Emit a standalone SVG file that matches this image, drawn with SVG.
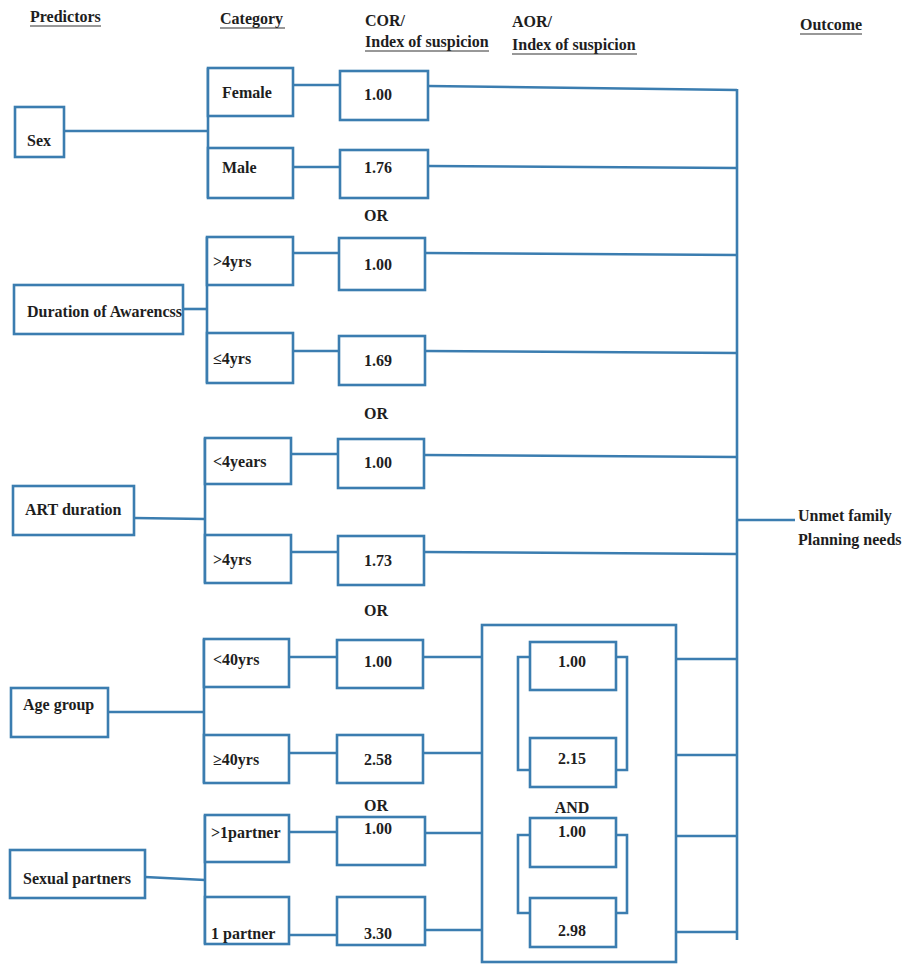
<svg xmlns="http://www.w3.org/2000/svg" width="905" height="964" viewBox="0 0 905 964" font-family="'Liberation Serif', 'DejaVu Serif', serif">
<style>
  .bg{fill:#ffffff}
  .box{fill:#ffffff;stroke:#3b7db0;stroke-width:2.6}
  .ln{fill:none;stroke:#3b7db0;stroke-width:2.6}
  text{font-family:'Liberation Serif','Times New Roman','DejaVu Serif',serif;font-weight:bold;font-size:16px;fill:#1e1e1e}
  .c{text-anchor:middle}
  .ul{stroke:#333;stroke-width:1.2}
</style>
<rect class="bg" x="0" y="0" width="905" height="964"/>

<g id="headers">
  <text x="30" y="22">Predictors</text>
  <line class="ul" x1="30" y1="26" x2="101" y2="26"/>
  <text x="220" y="24">Category</text>
  <line class="ul" x1="220" y1="28" x2="285" y2="28"/>
  <text x="365" y="26">COR/</text>
  <text x="365" y="47">Index of suspicion</text>
  <line class="ul" x1="365" y1="51" x2="489" y2="51"/>
  <text x="512" y="27">AOR/</text>
  <text x="512" y="50">Index of suspicion</text>
  <line class="ul" x1="512" y1="54" x2="637" y2="54"/>
  <text x="800" y="30">Outcome</text>
  <line class="ul" x1="800" y1="34" x2="862" y2="34"/>
</g>

<g id="connectors">
  <line class="ln" x1="64" y1="131" x2="208" y2="131"/>
  <line class="ln" x1="208" y1="68" x2="208" y2="198"/>
  <line class="ln" x1="293" y1="85" x2="340" y2="85"/>
  <line class="ln" x1="293" y1="167" x2="340" y2="167"/>
  <line class="ln" x1="428" y1="86" x2="737" y2="90"/>
  <line class="ln" x1="428" y1="166" x2="737" y2="168"/>
  <line class="ln" x1="183" y1="309" x2="207" y2="309"/>
  <line class="ln" x1="207" y1="237" x2="207" y2="383"/>
  <line class="ln" x1="293" y1="253" x2="339" y2="253"/>
  <line class="ln" x1="293" y1="351" x2="339" y2="351"/>
  <line class="ln" x1="425" y1="253" x2="737" y2="255"/>
  <line class="ln" x1="425" y1="351" x2="737" y2="353"/>
  <line class="ln" x1="134" y1="518" x2="205" y2="519"/>
  <line class="ln" x1="205" y1="438" x2="205" y2="583"/>
  <line class="ln" x1="291" y1="454" x2="338" y2="454"/>
  <line class="ln" x1="291" y1="552" x2="338" y2="552"/>
  <line class="ln" x1="424" y1="455" x2="737" y2="457"/>
  <line class="ln" x1="424" y1="552" x2="737" y2="554"/>
  <line class="ln" x1="108" y1="712" x2="204" y2="712"/>
  <line class="ln" x1="204" y1="639" x2="204" y2="783"/>
  <line class="ln" x1="289" y1="657" x2="337" y2="657"/>
  <line class="ln" x1="289" y1="753" x2="337" y2="753"/>
  <line class="ln" x1="423" y1="657" x2="482" y2="657"/>
  <line class="ln" x1="423" y1="753" x2="482" y2="753"/>
  <line class="ln" x1="145" y1="877" x2="205" y2="880"/>
  <line class="ln" x1="205" y1="815" x2="205" y2="944"/>
  <line class="ln" x1="289" y1="832" x2="337" y2="832"/>
  <line class="ln" x1="289" y1="935" x2="337" y2="935"/>
  <line class="ln" x1="423" y1="833" x2="482" y2="833"/>
  <line class="ln" x1="423" y1="930" x2="482" y2="930"/>
  <line class="ln" x1="676" y1="659" x2="737" y2="659"/>
  <line class="ln" x1="676" y1="755" x2="737" y2="755"/>
  <line class="ln" x1="676" y1="836" x2="737" y2="836"/>
  <line class="ln" x1="676" y1="932" x2="737" y2="932"/>
  <line class="ln" x1="737" y1="89" x2="737" y2="940"/>
  <line class="ln" x1="737" y1="520" x2="795" y2="520"/>
</g>

<g id="node-sex"><rect class="box" x="15" y="107" width="49" height="50"/><text x="27" y="146">Sex</text></g>
<g id="node-female"><rect class="box" x="208" y="68" width="85" height="48"/><text x="222" y="98">Female</text></g>
<g id="node-male"><rect class="box" x="208" y="148" width="85" height="50"/><text x="222" y="173">Male</text></g>
<g id="node-cor-female"><rect class="box" x="340" y="71" width="88" height="49"/><text class="c" x="378" y="100">1.00</text></g>
<g id="node-cor-male"><rect class="box" x="340" y="150" width="88" height="48"/><text class="c" x="378" y="173">1.76</text></g>
<text class="c" x="376" y="221">OR</text>

<g id="node-duration"><rect class="box" x="14" y="285" width="169" height="49"/><text x="27" y="317">Duration of Awarencss</text></g>
<g id="node-gt4yrs"><rect class="box" x="207" y="237" width="86" height="48"/><text x="213" y="267">&gt;4yrs</text></g>
<g id="node-le4yrs"><rect class="box" x="207" y="333" width="86" height="50"/><text x="213" y="364">≤4yrs</text></g>
<g id="node-cor-gt4"><rect class="box" x="339" y="238" width="86" height="52"/><text class="c" x="378" y="270">1.00</text></g>
<g id="node-cor-le4"><rect class="box" x="339" y="336" width="86" height="49"/><text class="c" x="378" y="366">1.69</text></g>
<text class="c" x="376" y="419">OR</text>

<g id="node-art"><rect class="box" x="13" y="486" width="121" height="49"/><text x="25" y="515">ART duration</text></g>
<g id="node-lt4years"><rect class="box" x="205" y="438" width="86" height="46"/><text x="213" y="467">&lt;4years</text></g>
<g id="node-gt4yrs2"><rect class="box" x="205" y="535" width="86" height="48"/><text x="213" y="565">&gt;4yrs</text></g>
<g id="node-cor-lt4years"><rect class="box" x="338" y="439" width="86" height="49"/><text class="c" x="378" y="468">1.00</text></g>
<g id="node-cor-gt4yrs2"><rect class="box" x="338" y="536" width="86" height="49"/><text class="c" x="378" y="566">1.73</text></g>
<text class="c" x="376" y="616">OR</text>

<g id="node-age"><rect class="box" x="11" y="688" width="97" height="49"/><text x="23" y="710">Age group</text></g>
<g id="node-lt40"><rect class="box" x="204" y="639" width="85" height="48"/><text x="213" y="665">&lt;40yrs</text></g>
<g id="node-ge40"><rect class="box" x="204" y="735" width="85" height="48"/><text x="213" y="765">≥40yrs</text></g>
<g id="node-cor-lt40"><rect class="box" x="337" y="640" width="86" height="48"/><text class="c" x="378" y="667">1.00</text></g>
<g id="node-cor-ge40"><rect class="box" x="337" y="735" width="86" height="48"/><text class="c" x="378" y="765">2.58</text></g>
<text class="c" x="376" y="811">OR</text>

<g id="node-partners"><rect class="box" x="10" y="850" width="135" height="48"/><text x="23" y="884">Sexual partners</text></g>
<g id="node-gt1partner"><rect class="box" x="205" y="815" width="84" height="47"/><text x="211" y="838">&gt;1partner</text></g>
<g id="node-1partner"><rect class="box" x="205" y="897" width="84" height="47"/><text x="211" y="939">1 partner</text></g>
<g id="node-cor-gt1"><rect class="box" x="337" y="817" width="88" height="48"/><text class="c" x="378" y="834">1.00</text></g>
<g id="node-cor-1"><rect class="box" x="337" y="897" width="88" height="48"/><text class="c" x="378" y="939">3.30</text></g>

<g id="node-aor-group">
  <rect class="box" x="482" y="625" width="194" height="337"/>
  <polyline class="ln" points="530,657 518,657 518,770 530,770"/>
  <polyline class="ln" points="616,657 627,657 627,770 616,770"/>
  <polyline class="ln" points="530,835 518,835 518,913 530,913"/>
  <polyline class="ln" points="616,835 627,835 627,913 616,913"/>
  <text class="c" x="572" y="813">AND</text>
</g>
<g id="node-aor-lt40"><rect class="box" x="530" y="642" width="86" height="48"/><text class="c" x="572" y="667">1.00</text></g>
<g id="node-aor-ge40"><rect class="box" x="530" y="738" width="86" height="49"/><text class="c" x="572" y="764">2.15</text></g>
<g id="node-aor-gt1"><rect class="box" x="530" y="818" width="86" height="49"/><text class="c" x="572" y="837">1.00</text></g>
<g id="node-aor-1"><rect class="box" x="530" y="898" width="86" height="49"/><text class="c" x="572" y="936">2.98</text></g>

<g id="node-outcome">
  <text x="798" y="521">Unmet family</text>
  <text x="798" y="545">Planning needs</text>
</g>
</svg>
